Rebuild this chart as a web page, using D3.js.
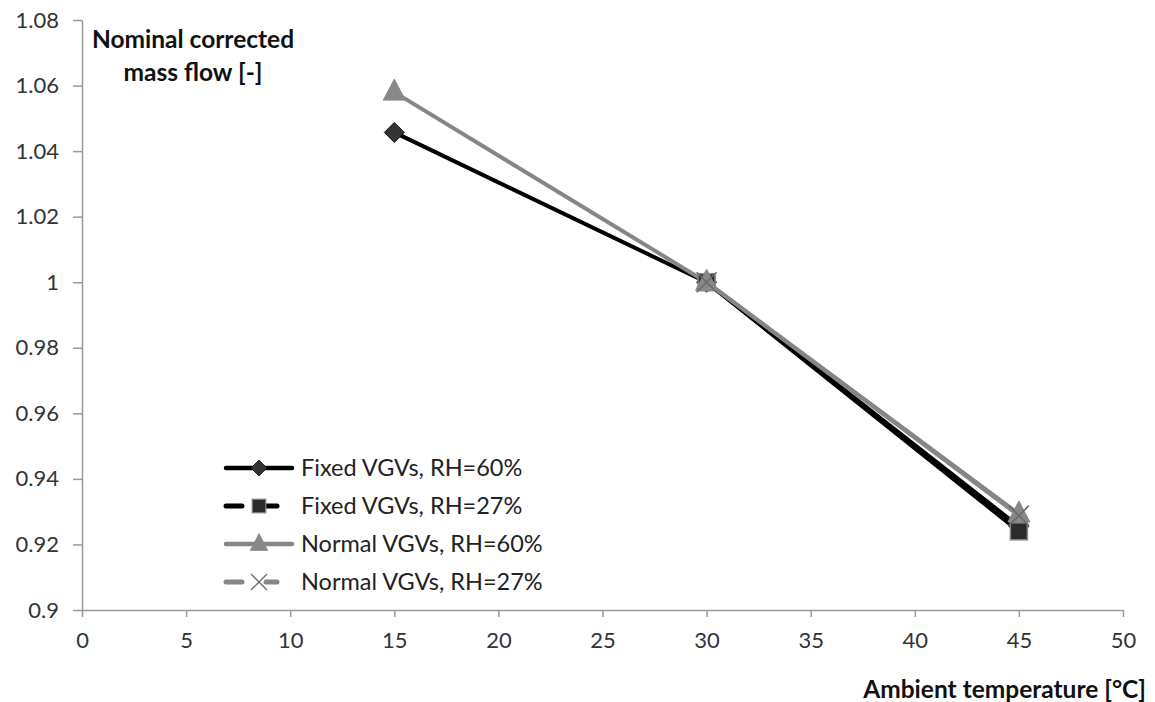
<!DOCTYPE html>
<meta charset='utf-8'>
<head>
    <title>Mass flow</title>
    <script src='https://cdn.jsdelivr.net/npm/d3@7/dist/d3.min.js'></script>
</head>

<style>
    body { margin: 0; background: #fff; }
    text { font-family: Lato, 'Open Sans', sans-serif; fill: #222; }
    .axis path, .axis line { stroke: #9a9a9a; stroke-width: 1.5px; }
    .axis text { font-size: 22px; fill: #333; }
    .title { font-weight: bold; font-size: 24.5px; fill: #111; }
    .legend text { font-size: 23.5px; fill: #222; }
</style>

<svg></svg>

<script>
    var vWidth = 1155;
    var vHeight = 702;

    // data (RH=27% runs start at 30 °C)
    var temps60 = [15, 30, 45];
    var temps27 = [30, 45];
    var fixed60 = [1.0457, 1.0, 0.9255];
    var fixed27 = [1.0, 0.9240];
    var normal60 = [1.0580, 1.0, 0.9293];
    var normal27 = [1.0, 0.9288];
    var seriesNames = ['Fixed VGVs, RH=60%', 'Fixed VGVs, RH=27%', 'Normal VGVs, RH=60%', 'Normal VGVs, RH=27%'];
    var xTicks = [0, 5, 10, 15, 20, 25, 30, 35, 40, 45, 50];
    var yTicks = [0.9, 0.92, 0.94, 0.96, 0.98, 1, 1.02, 1.04, 1.06, 1.08];

    var series = [
        {name: seriesNames[0], temps: temps60, values: fixed60, color: '#000', marker: 'diamond', dashed: false},
        {name: seriesNames[1], temps: temps27, values: fixed27, color: '#000', marker: 'square', dashed: true},
        {name: seriesNames[2], temps: temps60, values: normal60, color: '#868686', marker: 'triangle', dashed: false},
        {name: seriesNames[3], temps: temps27, values: normal27, color: '#868686', marker: 'cross', dashed: true}
    ];

    var svg = d3.select('svg').attr('width', vWidth).attr('height', vHeight);

    var x = d3.scaleLinear().domain([0, 50]).range([82, 1123]);
    var y = d3.scaleLinear().domain([0.9, 1.08]).range([610, 20]);

    // axes
    svg.append('g').attr('class', 'axis')
        .attr('transform', 'translate(0,' + y(0.9) + ')')
        .call(d3.axisBottom(x).tickValues(xTicks).tickSize(7).tickPadding(14).tickSizeOuter(0))
        .selectAll('text').attr('dy', '0.75em');

    svg.append('g').attr('class', 'axis')
        .attr('transform', 'translate(' + x(0) + ',0)')
        .call(d3.axisLeft(y).tickValues(yTicks).tickSize(9).tickPadding(14).tickSizeOuter(0)
            .tickFormat(function (d) { return d3.format('')(+d.toFixed(2)); }));

    // axis titles
    svg.append('text').attr('class', 'title').attr('x', 193).attr('y', 48)
        .attr('text-anchor', 'middle').text('Nominal corrected');
    svg.append('text').attr('class', 'title').attr('x', 193).attr('y', 81)
        .attr('text-anchor', 'middle').text('mass flow [-]');
    svg.append('text').attr('class', 'title').attr('x', 1146).attr('y', 698)
        .attr('text-anchor', 'end').text('Ambient temperature [°C]');

    /**
     * Draw one marker centred on (cx, cy)
     */
    function drawMarker(sel, kind, cx, cy, k) {
        var g = sel.append('g').attr('transform', 'translate(' + cx + ',' + cy + ') scale(' + (k || 1) + ')');
        if (kind === 'diamond') {
            g.append('path').attr('d', 'M0,-10L10,0L0,10L-10,0Z')
                .attr('fill', '#333').attr('stroke', '#111').attr('stroke-width', 1);
        } else if (kind === 'square') {
            g.append('rect').attr('x', -8.5).attr('y', -8.5).attr('width', 17).attr('height', 17)
                .attr('fill', '#2b2b2b').attr('stroke', '#888').attr('stroke-width', 1.5);
        } else if (kind === 'triangle') {
            g.append('path').attr('d', 'M0,-13L11,8L-11,8Z')
                .attr('fill', '#888').attr('stroke', '#888').attr('stroke-width', 1);
        } else {
            g.append('path').attr('d', 'M-10,-10L10,10M10,-10L-10,10')
                .attr('stroke', '#6a6a6a').attr('stroke-width', 1.6);
        }
    }

    var plot = svg.append('g');
    series.forEach(function (s) {
        var line = d3.line()
            .x(function (d, i) { return x(s.temps[i]); })
            .y(function (d) { return y(d); });
        plot.append('path').attr('d', line(s.values))
            .attr('fill', 'none').attr('stroke', s.color).attr('stroke-width', 4)
            .attr('stroke-linejoin', 'round');
    });
    series.forEach(function (s) {
        s.values.forEach(function (v, i) {
            drawMarker(plot, s.marker, x(s.temps[i]), y(v));
        });
    });

    // legend
    var legend = svg.append('g').attr('class', 'legend');
    series.forEach(function (s, i) {
        var ly = 468 + i * 38;
        var row = legend.append('g');
        if (s.dashed) {
            row.append('line').attr('x1', 226).attr('x2', 242).attr('y1', ly).attr('y2', ly)
                .attr('stroke', s.color).attr('stroke-width', 5).attr('stroke-linecap', 'round');
            row.append('line').attr('x1', 266).attr('x2', 277).attr('y1', ly).attr('y2', ly)
                .attr('stroke', s.color).attr('stroke-width', 5).attr('stroke-linecap', 'round');
        } else {
            row.append('line').attr('x1', 226).attr('x2', 292).attr('y1', ly).attr('y2', ly)
                .attr('stroke', s.color).attr('stroke-width', 4.5).attr('stroke-linecap', 'round');
        }
        drawMarker(row, s.marker, 259, ly, 0.8);
        row.append('text').attr('x', 301).attr('y', ly).attr('dy', '0.35em').text(s.name);
    });
</script>
